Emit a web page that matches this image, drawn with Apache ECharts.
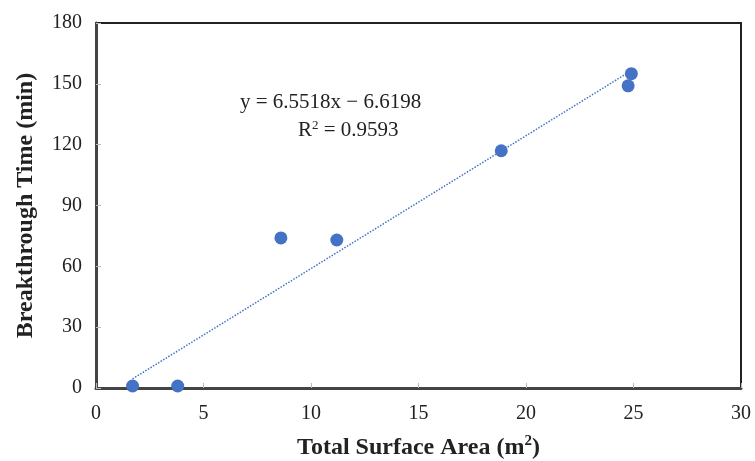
<!DOCTYPE html>
<html>
<head>
<meta charset="utf-8">
<script src="https://cdn.jsdelivr.net/npm/echarts@6/dist/echarts.min.js"></script>
<style>
  html, body { margin: 0; padding: 0; background: #fff; }
  #container { width: 755px; height: 461px; }
</style>
</head>
<body>
<div id="container"></div>
<script>
var dom = document.getElementById("container");
var myChart = echarts.init(dom, null, { renderer: "canvas" });
var option;

// surface area (m2) vs breakthrough time (min)
const areaX = [1.7, 3.8, 8.6, 11.2, 18.85, 24.9, 24.75];
const timeY = [1, 1, 74, 73, 117, 155, 149];
// linear fit end points (y = 6.5518x - 6.6198)
const trendX = [1.7, 24.9];
const trendY = [4.52, 156.52];
const xTicks = [0, 5, 10, 15, 20, 25, 30];
const yTicks = [0, 30, 60, 90, 120, 150, 180];

const serif = "'Liberation Serif', 'DejaVu Serif', serif";
const blue = "#4472C4";

option = {
  animation: false,
  backgroundColor: "#fff",
  grid: {
    left: 96,
    right: 14,
    top: 23,
    bottom: 73,
    outerBoundsMode: "none",
    show: true,
    borderColor: "#222",
    borderWidth: 2,
  },
  xAxis: {
    type: "value",
    min: xTicks[0],
    max: xTicks[xTicks.length - 1],
    interval: 5,
    splitLine: { show: false },
    axisLine: { lineStyle: { color: "#444", width: 3 } },
    axisTick: { inside: true, length: 5, lineStyle: { color: "#bbb" } },
    axisLabel: { fontFamily: serif, fontSize: 20, color: "#222", margin: 16 },
    name: "Total Surface Area (m{sup|2})",
    nameLocation: "middle",
    nameGap: 46,
    nameTextStyle: {
      fontFamily: serif,
      fontSize: 24,
      fontWeight: "bold",
      color: "#222",
      rich: {
        sup: { fontFamily: serif, fontSize: 15, fontWeight: "bold", color: "#222", verticalAlign: "top", padding: [0, 0, 12, 0] },
      },
    },
  },
  yAxis: {
    type: "value",
    min: yTicks[0],
    max: yTicks[yTicks.length - 1],
    interval: 30,
    splitLine: { show: false },
    axisLine: { lineStyle: { color: "#444", width: 3 } },
    axisTick: { inside: true, length: 5, lineStyle: { color: "#bbb" } },
    axisLabel: { fontFamily: serif, fontSize: 20, color: "#222", margin: 14 },
    name: "Breakthrough Time (min)",
    nameLocation: "middle",
    nameGap: 58,
    nameTextStyle: { fontFamily: serif, fontSize: 24, fontWeight: "bold", color: "#222" },
  },
  series: [
    {
      type: "line",
      data: trendX.map(function (x, i) { return [x, trendY[i]]; }),
      symbol: "none",
      lineStyle: { color: blue, width: 1.5, type: "dotted" },
      z: 1,
    },
    {
      type: "scatter",
      data: areaX.map(function (x, i) { return [x, timeY[i]]; }),
      symbolSize: 13,
      itemStyle: { color: blue, opacity: 1 },
      z: 2,
    },
  ],
  graphic: {
    elements: [
      {
        type: "text",
        left: 240,
        top: 92,
        style: {
          text: "y = 6.5518x \u2212 6.6198",
          font: "21px " + serif,
          fill: "#222",
        },
      },
      {
        type: "text",
        left: 298,
        top: 119,
        style: {
          text: "R{s|2} = 0.9593",
          font: "21px " + serif,
          fill: "#222",
          rich: {
            s: { font: "13px " + serif, fill: "#222", verticalAlign: "top", padding: [0, 0, 10, 0] },
          },
        },
      },
    ],
  },
};

myChart.setOption(option);
window.addEventListener("resize", myChart.resize);
</script>
</body>
</html>
